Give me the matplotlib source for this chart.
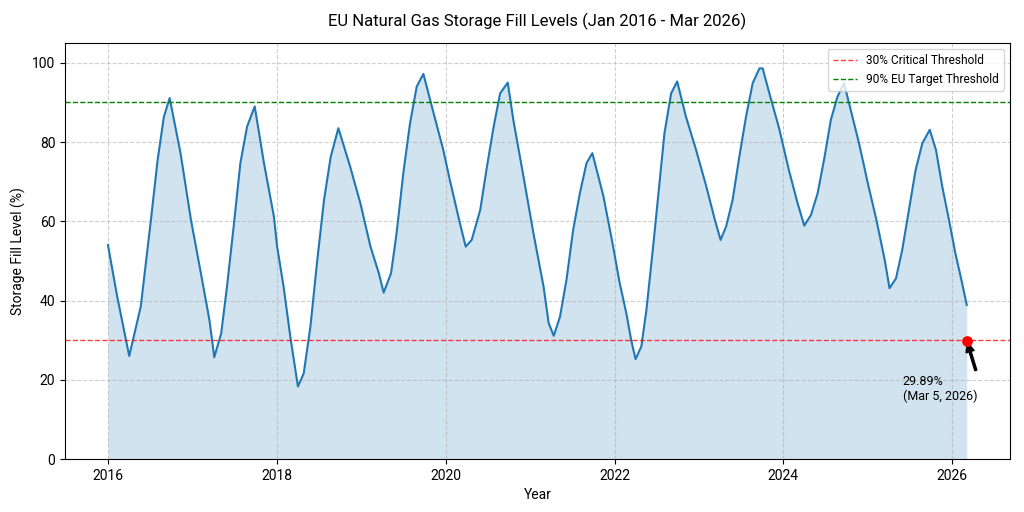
import matplotlib
matplotlib.use('Agg')
import matplotlib.pyplot as plt
import matplotlib.dates as mdates
import pandas as pd

plt.rcParams['font.family'] = ['Roboto', 'DejaVu Sans']

# weekly-ish readings of the storage curve (key points)
dates = [
    '2016-01-01', '2016-02-10', '2016-04-02', '2016-05-22', '2016-07-05', '2016-08-03',
    '2016-08-30', '2016-09-24', '2016-11-10', '2016-12-25', '2017-02-06', '2017-03-15',
    '2017-04-05', '2017-05-05', '2017-05-30', '2017-06-28', '2017-07-27', '2017-08-25',
    '2017-09-27', '2017-11-06', '2017-12-19', '2018-01-02', '2018-01-30', '2018-02-28',
    '2018-04-02', '2018-04-27', '2018-05-26', '2018-06-25', '2018-07-24', '2018-08-22',
    '2018-09-24', '2018-11-14', '2018-12-28', '2019-02-10', '2019-03-18', '2019-04-08',
    '2019-05-10', '2019-06-03', '2019-07-02', '2019-07-31', '2019-08-29', '2019-09-27',
    '2019-11-10', '2019-12-22', '2020-01-19', '2020-03-03', '2020-03-28', '2020-04-23',
    '2020-05-30', '2020-06-28', '2020-07-27', '2020-08-24', '2020-09-26', '2020-10-20',
    '2020-12-03', '2021-01-15', '2021-02-28', '2021-03-22', '2021-04-13', '2021-05-10',
    '2021-06-07', '2021-07-06', '2021-08-04', '2021-09-02', '2021-09-27', '2021-11-14',
    '2021-12-26', '2022-01-22', '2022-02-21', '2022-03-14', '2022-04-02', '2022-04-27',
    '2022-05-19', '2022-06-17', '2022-07-16', '2022-08-05', '2022-09-03', '2022-09-29',
    '2022-11-06', '2022-12-20', '2023-02-02', '2023-03-11', '2023-04-05', '2023-04-29',
    '2023-05-27', '2023-06-25', '2023-07-24', '2023-08-22', '2023-09-20', '2023-10-04',
    '2023-11-02', '2023-12-14', '2024-01-26', '2024-03-03', '2024-04-01', '2024-04-30',
    '2024-05-29', '2024-06-28', '2024-07-25', '2024-08-23', '2024-09-20', '2024-10-19',
    '2024-11-24', '2025-01-01', '2025-02-07', '2025-03-15', '2025-04-05', '2025-05-03',
    '2025-05-30', '2025-06-28', '2025-07-27', '2025-08-25', '2025-09-26', '2025-10-23',
    '2025-11-19', '2025-12-18', '2026-01-15', '2026-02-10', '2026-03-05']
fill_levels = [
    54.0, 41.0, 26.0, 38.5, 60.4, 75.5,
    86.4, 91.1, 77.2, 60.4, 46.9, 35.1,
    25.7, 31.7, 43.5, 58.7, 74.7, 83.9,
    89.0, 74.7, 61.2, 53.6, 43.5, 30.9,
    18.3, 21.6, 33.4, 50.3, 65.4, 76.3,
    83.5, 73.8, 64.6, 53.6, 46.9, 42.0,
    46.9, 57.0, 72.1, 84.7, 94.0, 97.2,
    87.3, 78.0, 70.5, 59.5, 53.6, 55.3,
    62.9, 73.8, 83.9, 92.3, 95.0, 85.6,
    71.3, 57.0, 43.5, 34.3, 31.1, 35.9,
    45.2, 57.8, 67.1, 74.7, 77.2, 66.3,
    53.6, 44.8, 36.8, 30.0, 25.2, 28.4,
    37.6, 53.6, 70.5, 82.2, 92.3, 95.3,
    86.4, 78.0, 68.8, 60.4, 55.3, 58.7,
    65.4, 76.3, 86.4, 94.9, 98.6, 98.6,
    92.3, 83.5, 72.8, 64.6, 58.9, 61.6,
    67.1, 76.3, 85.6, 91.5, 94.9, 88.1,
    79.7, 69.6, 60.4, 50.3, 43.1, 45.6,
    52.8, 62.9, 73.0, 79.7, 83.1, 78.0,
    68.8, 60.4, 51.9, 45.2, 38.9]

critical_level = 30
target_level = 90
latest_date = '2026-03-05'
latest_value = 29.89

x = pd.to_datetime(dates)
last = pd.Timestamp(latest_date)

fig, ax = plt.subplots(figsize=(10.24, 5.12), dpi=100)
fig.subplots_adjust(left=0.0635, right=0.986, bottom=0.1035, top=0.916)

ax.plot(x, fill_levels, color='#1f77b4', linewidth=1.5)
ax.fill_between(x, fill_levels, color='#1f77b4', alpha=0.2, linewidth=0)

ax.axhline(critical_level, color='red', linestyle='--', linewidth=1, alpha=0.75,
           label='30% Critical Threshold')
ax.axhline(target_level, color='green', linestyle='--', linewidth=1,
           label='90% EU Target Threshold')

ax.scatter([last], [latest_value], color='red', s=45, zorder=5)
ax.annotate(f'{latest_value}%\n(Mar 5, 2026)', xy=(last, latest_value),
            xytext=(pd.Timestamp('2025-06-01'), 14.8), fontsize=9, ha='left',
            arrowprops=dict(facecolor='black', shrink=0.05, width=1.5, headwidth=6, headlength=7))

ax.set_ylim(0, 105)
ax.xaxis.set_major_locator(mdates.YearLocator(2))
ax.xaxis.set_major_formatter(mdates.DateFormatter('%Y'))
ax.grid(True, linestyle='--', alpha=0.6)

ax.set_title('EU Natural Gas Storage Fill Levels (Jan 2016 - Mar 2026)', fontsize=12, pad=12)
ax.set_xlabel('Year', fontsize=10)
ax.set_ylabel('Storage Fill Level (%)', fontsize=10)
ax.legend(loc='upper right', fontsize=8.6)

fig.savefig('out.png')
